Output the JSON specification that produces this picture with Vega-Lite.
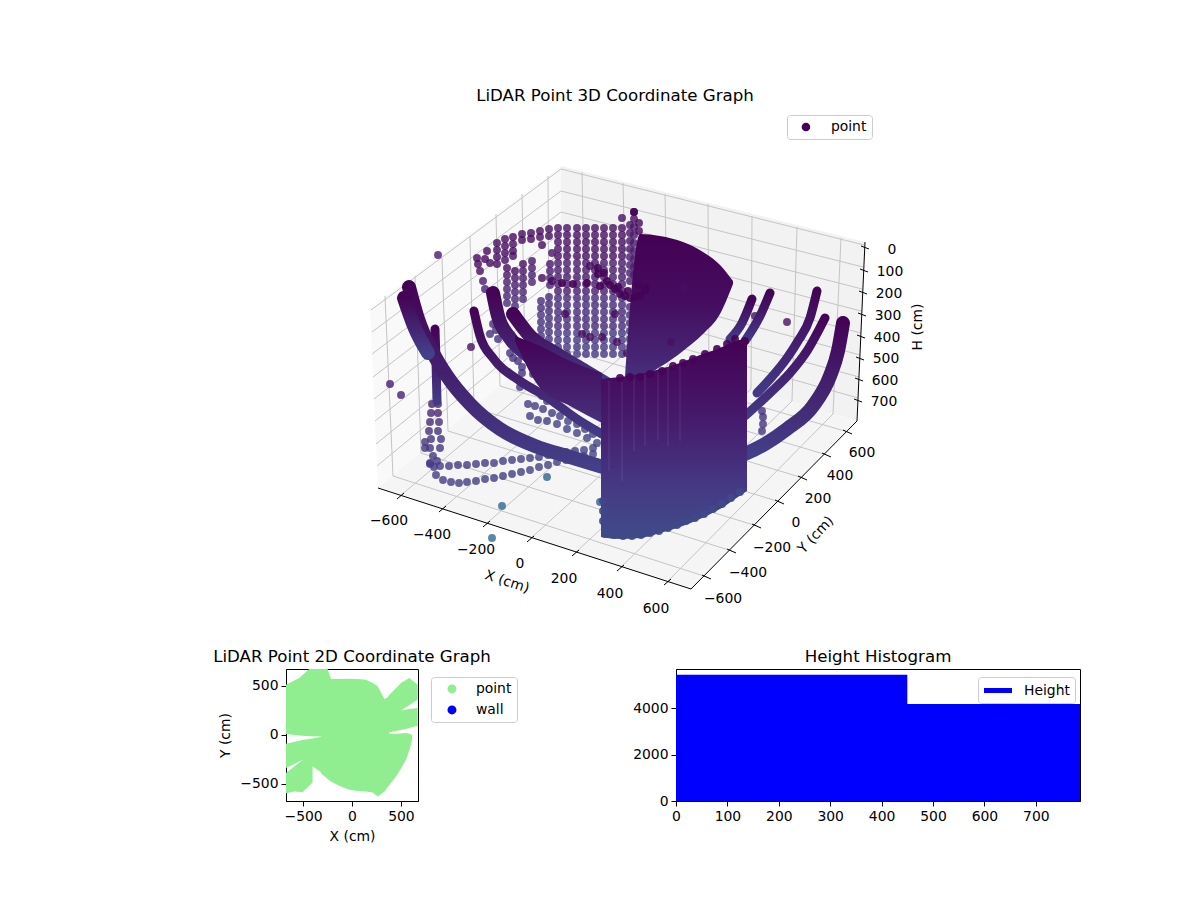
{"$schema":"https://vega.github.io/schema/vega-lite/v6.json","padding":{"left":212,"top":88,"right":0,"bottom":0},"background":"white","bounds":"flush","spacing":48,"config":{"font":"DejaVu Sans","view":{"stroke":"black"},"title":{"fontWeight":"normal","fontSize":16.67,"color":"black","offset":3},"axis":{"grid":false,"domainColor":"black","tickColor":"black","labelColor":"black","titleColor":"black","labelFontSize":13.9,"titleFontSize":13.9,"titleFontWeight":"normal","tickSize":5,"labelPadding":3,"labelFlush":false,"labelOverlap":false,"format":"d"},"legend":{"labelFontSize":13.9,"labelColor":"black","fillColor":"white","strokeColor":"#cccccc","cornerRadius":3,"padding":5}},"datasets":{"panes":[{"p":"left","x":370,"y":307,"y2":307},{"p":"left","x":378,"y":301,"y2":487},{"p":"left","x":561,"y":165,"y2":333}],"panesR":[{"x":561,"y":165,"y2":333},{"x":857,"y":239,"y2":420},{"x":865,"y":241,"y2":241}],"panesF":[{"x":378,"y":487,"y2":487},{"x":561,"y":333,"y2":547},{"x":691,"y":371,"y2":588},{"x":857,"y":420,"y2":420}],"grid":[{"x":385,"y":295,"x2":393,"y2":475},{"x":415,"y":275,"x2":421,"y2":452},{"x":442,"y":257,"x2":448,"y2":430},{"x":470,"y":235,"x2":474,"y2":407},{"x":496,"y":213,"x2":500,"y2":385},{"x":522,"y":193,"x2":525,"y2":364},{"x":548,"y":175,"x2":549,"y2":344},{"x":582,"y":171,"x2":585,"y2":340},{"x":623,"y":182,"x2":627,"y2":351},{"x":665,"y":193,"x2":668,"y2":364},{"x":708,"y":203,"x2":709,"y2":376},{"x":752,"y":215,"x2":751,"y2":388},{"x":797,"y":226,"x2":792,"y2":400},{"x":841,"y":237,"x2":833,"y2":413},{"x":371,"y":309,"x2":561,"y2":168},{"x":372,"y":331,"x2":561,"y2":190},{"x":372,"y":353,"x2":561,"y2":211},{"x":373,"y":376,"x2":561,"y2":232},{"x":374,"y":398,"x2":561,"y2":252},{"x":375,"y":420,"x2":561,"y2":273},{"x":376,"y":443,"x2":561,"y2":293},{"x":377,"y":465,"x2":561,"y2":313},{"x":561,"y":168,"x2":864,"y2":244},{"x":561,"y":190,"x2":863,"y2":266},{"x":561,"y":211,"x2":862,"y2":288},{"x":561,"y":232,"x2":861,"y2":310},{"x":561,"y":252,"x2":861,"y2":332},{"x":561,"y":273,"x2":860,"y2":354},{"x":561,"y":293,"x2":859,"y2":376},{"x":561,"y":313,"x2":858,"y2":397},{"x":400,"y":495,"x2":585,"y2":340},{"x":442,"y":508,"x2":627,"y2":351},{"x":486,"y":523,"x2":668,"y2":364},{"x":530,"y":538,"x2":709,"y2":376},{"x":575,"y":552,"x2":751,"y2":388},{"x":620,"y":567,"x2":792,"y2":400},{"x":667,"y":581,"x2":833,"y2":413},{"x":707,"y":576,"x2":393,"y2":475},{"x":732,"y":550,"x2":421,"y2":452},{"x":757,"y":525,"x2":448,"y2":430},{"x":780,"y":501,"x2":474,"y2":407},{"x":803,"y":477,"x2":500,"y2":385},{"x":827,"y":454,"x2":525,"y2":364},{"x":848,"y":431,"x2":549,"y2":344}],"axes":[{"x":378,"y":487,"x2":691,"y2":588},{"x":691,"y":588,"x2":857,"y2":420},{"x":857,"y":420,"x2":865,"y2":241},{"x":397,"y":498,"x2":404,"y2":492},{"x":439,"y":511,"x2":446,"y2":505},{"x":483,"y":526,"x2":490,"y2":520},{"x":527,"y":541,"x2":534,"y2":535},{"x":572,"y":555,"x2":579,"y2":549},{"x":617,"y":570,"x2":624,"y2":564},{"x":664,"y":584,"x2":671,"y2":578},{"x":702,"y":574,"x2":711,"y2":578},{"x":727,"y":548,"x2":736,"y2":552},{"x":752,"y":523,"x2":761,"y2":527},{"x":775,"y":499,"x2":784,"y2":503},{"x":798,"y":475,"x2":807,"y2":479},{"x":822,"y":452,"x2":831,"y2":456},{"x":843,"y":429,"x2":852,"y2":433},{"x":861,"y":245,"x2":869,"y2":248},{"x":860,"y":268,"x2":868,"y2":271},{"x":859,"y":290,"x2":867,"y2":293},{"x":858,"y":312,"x2":866,"y2":315},{"x":857,"y":334,"x2":865,"y2":337},{"x":856,"y":356,"x2":864,"y2":359},{"x":855,"y":377,"x2":863,"y2":380},{"x":854,"y":398,"x2":862,"y2":401}],"labels":[{"t":"−600","x":389,"y":520},{"t":"−400","x":432,"y":534},{"t":"−200","x":476,"y":549},{"t":"0","x":520,"y":563},{"t":"200","x":564,"y":578},{"t":"400","x":610,"y":593},{"t":"600","x":656,"y":608},{"t":"−600","x":723,"y":598},{"t":"−400","x":748,"y":572},{"t":"−200","x":772,"y":547},{"t":"0","x":796,"y":522},{"t":"200","x":818,"y":498},{"t":"400","x":840,"y":475},{"t":"600","x":862,"y":452},{"t":"0","x":892,"y":249},{"t":"100","x":890,"y":271},{"t":"200","x":889,"y":293},{"t":"300","x":888,"y":315},{"t":"400","x":887,"y":337},{"t":"500","x":886,"y":358},{"t":"600","x":885,"y":380},{"t":"700","x":884,"y":401}],"pts":[{"x":558,"y":227,"h":30},{"x":558,"y":234,"h":30},{"x":558,"y":241,"h":30},{"x":558,"y":248,"h":30},{"x":558,"y":255,"h":30},{"x":558,"y":262,"h":55},{"x":558,"y":269,"h":55},{"x":558,"y":276,"h":55},{"x":558,"y":283,"h":55},{"x":558,"y":290,"h":55},{"x":558,"y":297,"h":95},{"x":558,"y":304,"h":95},{"x":558,"y":311,"h":95},{"x":558,"y":318,"h":95},{"x":558,"y":325,"h":95},{"x":558,"y":332,"h":125},{"x":558,"y":339,"h":125},{"x":558,"y":346,"h":125},{"x":558,"y":353,"h":125},{"x":558,"y":360,"h":125},{"x":567,"y":227,"h":30},{"x":567,"y":234,"h":30},{"x":567,"y":241,"h":30},{"x":567,"y":248,"h":30},{"x":567,"y":255,"h":30},{"x":567,"y":262,"h":55},{"x":567,"y":269,"h":55},{"x":567,"y":276,"h":55},{"x":567,"y":283,"h":55},{"x":567,"y":290,"h":55},{"x":567,"y":297,"h":95},{"x":567,"y":304,"h":95},{"x":567,"y":311,"h":95},{"x":567,"y":318,"h":95},{"x":567,"y":325,"h":95},{"x":567,"y":332,"h":125},{"x":567,"y":339,"h":125},{"x":567,"y":346,"h":125},{"x":567,"y":353,"h":125},{"x":577,"y":227,"h":30},{"x":577,"y":234,"h":30},{"x":577,"y":241,"h":30},{"x":577,"y":248,"h":30},{"x":577,"y":255,"h":30},{"x":577,"y":262,"h":55},{"x":577,"y":269,"h":55},{"x":577,"y":276,"h":55},{"x":577,"y":283,"h":55},{"x":577,"y":290,"h":55},{"x":577,"y":297,"h":95},{"x":577,"y":304,"h":95},{"x":577,"y":311,"h":95},{"x":577,"y":318,"h":95},{"x":577,"y":325,"h":95},{"x":577,"y":332,"h":125},{"x":577,"y":339,"h":125},{"x":577,"y":346,"h":125},{"x":577,"y":353,"h":125},{"x":586,"y":227,"h":30},{"x":586,"y":234,"h":30},{"x":586,"y":241,"h":30},{"x":586,"y":248,"h":30},{"x":586,"y":255,"h":30},{"x":586,"y":262,"h":55},{"x":586,"y":269,"h":55},{"x":586,"y":276,"h":55},{"x":586,"y":283,"h":55},{"x":586,"y":290,"h":55},{"x":586,"y":297,"h":95},{"x":586,"y":304,"h":95},{"x":586,"y":311,"h":95},{"x":586,"y":318,"h":95},{"x":586,"y":325,"h":95},{"x":586,"y":332,"h":125},{"x":586,"y":339,"h":125},{"x":586,"y":346,"h":125},{"x":586,"y":353,"h":125},{"x":595,"y":227,"h":30},{"x":595,"y":234,"h":30},{"x":595,"y":241,"h":30},{"x":595,"y":248,"h":30},{"x":595,"y":255,"h":30},{"x":595,"y":262,"h":55},{"x":595,"y":269,"h":55},{"x":595,"y":276,"h":55},{"x":595,"y":283,"h":55},{"x":595,"y":290,"h":55},{"x":595,"y":297,"h":95},{"x":595,"y":304,"h":95},{"x":595,"y":311,"h":95},{"x":595,"y":318,"h":95},{"x":595,"y":325,"h":95},{"x":595,"y":332,"h":125},{"x":595,"y":339,"h":125},{"x":595,"y":346,"h":125},{"x":595,"y":353,"h":125},{"x":604,"y":227,"h":30},{"x":604,"y":234,"h":30},{"x":604,"y":241,"h":30},{"x":604,"y":248,"h":30},{"x":604,"y":255,"h":30},{"x":604,"y":262,"h":55},{"x":604,"y":269,"h":55},{"x":604,"y":276,"h":55},{"x":604,"y":283,"h":55},{"x":604,"y":290,"h":55},{"x":604,"y":297,"h":95},{"x":604,"y":304,"h":95},{"x":604,"y":311,"h":95},{"x":604,"y":318,"h":95},{"x":604,"y":325,"h":95},{"x":604,"y":332,"h":125},{"x":604,"y":339,"h":125},{"x":604,"y":346,"h":125},{"x":604,"y":353,"h":125},{"x":613,"y":227,"h":30},{"x":613,"y":234,"h":30},{"x":613,"y":241,"h":30},{"x":613,"y":248,"h":30},{"x":613,"y":255,"h":30},{"x":613,"y":262,"h":55},{"x":613,"y":269,"h":55},{"x":613,"y":276,"h":55},{"x":613,"y":283,"h":55},{"x":613,"y":290,"h":55},{"x":613,"y":297,"h":95},{"x":613,"y":304,"h":95},{"x":613,"y":311,"h":95},{"x":613,"y":318,"h":95},{"x":613,"y":325,"h":95},{"x":613,"y":332,"h":125},{"x":613,"y":339,"h":125},{"x":613,"y":346,"h":125},{"x":613,"y":353,"h":125},{"x":622,"y":227,"h":30},{"x":622,"y":234,"h":30},{"x":622,"y":241,"h":30},{"x":622,"y":248,"h":30},{"x":622,"y":255,"h":30},{"x":622,"y":262,"h":55},{"x":622,"y":269,"h":55},{"x":622,"y":276,"h":55},{"x":622,"y":283,"h":55},{"x":622,"y":290,"h":55},{"x":622,"y":297,"h":95},{"x":622,"y":304,"h":95},{"x":622,"y":311,"h":95},{"x":622,"y":318,"h":95},{"x":622,"y":325,"h":95},{"x":622,"y":332,"h":125},{"x":622,"y":339,"h":125},{"x":622,"y":346,"h":125},{"x":622,"y":353,"h":125},{"x":630,"y":224,"h":40},{"x":630,"y":232,"h":40},{"x":630,"y":240,"h":40},{"x":630,"y":248,"h":40},{"x":630,"y":256,"h":55},{"x":630,"y":264,"h":55},{"x":630,"y":272,"h":55},{"x":630,"y":280,"h":55},{"x":630,"y":306,"h":95},{"x":630,"y":314,"h":95},{"x":630,"y":322,"h":95},{"x":630,"y":330,"h":125},{"x":630,"y":338,"h":125},{"x":630,"y":346,"h":125},{"x":634,"y":211,"h":10},{"x":634,"y":218,"h":20},{"x":634,"y":226,"h":40},{"x":634,"y":234,"h":50},{"x":634,"y":242,"h":50},{"x":634,"y":250,"h":60},{"x":634,"y":258,"h":60},{"x":634,"y":266,"h":60},{"x":634,"y":274,"h":60},{"x":639,"y":222,"h":15},{"x":639,"y":230,"h":15},{"x":477,"y":257,"h":15},{"x":478,"y":263,"h":15},{"x":480,"y":270,"h":25},{"x":483,"y":280,"h":50},{"x":485,"y":288,"h":70},{"x":487,"y":250,"h":15},{"x":485,"y":258,"h":15},{"x":490,"y":262,"h":20},{"x":497,"y":242,"h":20},{"x":497,"y":249,"h":20},{"x":497,"y":256,"h":20},{"x":497,"y":263,"h":25},{"x":505,"y":238,"h":20},{"x":505,"y":245,"h":20},{"x":505,"y":252,"h":20},{"x":505,"y":259,"h":25},{"x":513,"y":236,"h":20},{"x":513,"y":243,"h":20},{"x":513,"y":250,"h":20},{"x":513,"y":255,"h":30},{"x":522,"y":233,"h":25},{"x":522,"y":239,"h":25},{"x":531,"y":232,"h":25},{"x":531,"y":238,"h":25},{"x":540,"y":230,"h":25},{"x":540,"y":236,"h":25},{"x":542,"y":244,"h":20},{"x":549,"y":228,"h":25},{"x":549,"y":235,"h":25},{"x":552,"y":252,"h":40},{"x":507,"y":267,"h":20},{"x":507,"y":274,"h":40},{"x":507,"y":281,"h":55},{"x":507,"y":288,"h":70},{"x":507,"y":295,"h":80},{"x":507,"y":302,"h":90},{"x":515,"y":270,"h":20},{"x":515,"y":277,"h":40},{"x":515,"y":284,"h":55},{"x":515,"y":291,"h":70},{"x":515,"y":298,"h":80},{"x":515,"y":305,"h":90},{"x":523,"y":263,"h":35},{"x":523,"y":270,"h":45},{"x":523,"y":277,"h":55},{"x":523,"y":284,"h":70},{"x":523,"y":291,"h":80},{"x":523,"y":298,"h":90},{"x":532,"y":260,"h":45},{"x":532,"y":267,"h":55},{"x":532,"y":274,"h":65},{"x":532,"y":281,"h":75},{"x":542,"y":277,"h":15},{"x":550,"y":263,"h":50},{"x":550,"y":270,"h":60},{"x":550,"y":277,"h":70},{"x":550,"y":284,"h":80},{"x":552,"y":280,"h":15},{"x":541,"y":300,"h":95},{"x":541,"y":307,"h":100},{"x":541,"y":314,"h":105},{"x":541,"y":321,"h":110},{"x":541,"y":328,"h":115},{"x":541,"y":335,"h":120},{"x":549,"y":296,"h":90},{"x":549,"y":303,"h":95},{"x":549,"y":310,"h":100},{"x":549,"y":317,"h":105},{"x":549,"y":324,"h":110},{"x":549,"y":331,"h":115},{"x":549,"y":338,"h":120},{"x":549,"y":345,"h":125},{"x":493,"y":323,"h":100},{"x":496,"y":329,"h":105},{"x":490,"y":333,"h":105},{"x":498,"y":338,"h":110},{"x":510,"y":352,"h":110},{"x":513,"y":357,"h":110},{"x":518,"y":360,"h":110},{"x":522,"y":366,"h":115},{"x":522,"y":372,"h":115},{"x":533,"y":373,"h":120},{"x":520,"y":386,"h":130},{"x":542,"y":395,"h":135},{"x":547,"y":400,"h":135},{"x":528,"y":403,"h":140},{"x":535,"y":405,"h":140},{"x":543,"y":408,"h":140},{"x":552,"y":412,"h":145},{"x":560,"y":415,"h":145},{"x":568,"y":420,"h":150},{"x":577,"y":423,"h":150},{"x":585,"y":428,"h":155},{"x":593,"y":433,"h":155},{"x":530,"y":415,"h":140},{"x":538,"y":419,"h":145},{"x":547,"y":420,"h":145},{"x":557,"y":423,"h":150},{"x":567,"y":428,"h":150},{"x":577,"y":432,"h":155},{"x":587,"y":437,"h":155},{"x":597,"y":442,"h":160},{"x":432,"y":403,"h":70},{"x":438,"y":403,"h":70},{"x":431,"y":412,"h":85},{"x":438,"y":412,"h":85},{"x":430,"y":421,"h":100},{"x":439,"y":421,"h":100},{"x":429,"y":430,"h":110},{"x":438,"y":430,"h":110},{"x":431,"y":438,"h":120},{"x":441,"y":438,"h":120},{"x":425,"y":441,"h":120},{"x":430,"y":447,"h":125},{"x":440,"y":447,"h":125},{"x":425,"y":447,"h":125},{"x":433,"y":455,"h":130},{"x":437,"y":460,"h":130},{"x":430,"y":462,"h":135},{"x":434,"y":466,"h":135},{"x":430,"y":463,"h":135},{"x":440,"y":465,"h":135},{"x":449,"y":465,"h":135},{"x":458,"y":464,"h":135},{"x":467,"y":464,"h":135},{"x":476,"y":463,"h":135},{"x":485,"y":462,"h":135},{"x":494,"y":462,"h":140},{"x":503,"y":460,"h":140},{"x":512,"y":459,"h":140},{"x":521,"y":458,"h":140},{"x":530,"y":457,"h":140},{"x":539,"y":456,"h":145},{"x":548,"y":454,"h":145},{"x":557,"y":453,"h":145},{"x":566,"y":451,"h":145},{"x":575,"y":450,"h":145},{"x":584,"y":449,"h":150},{"x":593,"y":447,"h":150},{"x":436,"y":474,"h":140},{"x":443,"y":479,"h":140},{"x":451,"y":481,"h":140},{"x":459,"y":482,"h":140},{"x":467,"y":481,"h":140},{"x":476,"y":480,"h":140},{"x":485,"y":478,"h":145},{"x":494,"y":477,"h":145},{"x":503,"y":475,"h":145},{"x":512,"y":473,"h":145},{"x":521,"y":471,"h":145},{"x":530,"y":469,"h":150},{"x":539,"y":466,"h":150},{"x":548,"y":464,"h":150},{"x":557,"y":461,"h":150},{"x":566,"y":459,"h":150},{"x":575,"y":457,"h":155},{"x":584,"y":455,"h":155},{"x":593,"y":453,"h":155},{"x":762,"y":410,"h":110},{"x":763,"y":416,"h":110},{"x":763,"y":423,"h":120},{"x":762,"y":430,"h":120},{"x":438,"y":254,"h":55},{"x":390,"y":383,"h":60},{"x":401,"y":394,"h":70},{"x":471,"y":346,"h":30},{"x":502,"y":505,"h":260},{"x":492,"y":537,"h":270},{"x":547,"y":476,"h":240},{"x":600,"y":501,"h":230},{"x":787,"y":321,"h":35},{"x":755,"y":315,"h":35},{"x":622,"y":217,"h":30},{"x":590,"y":265,"h":20},{"x":565,"y":313,"h":20},{"x":582,"y":333,"h":25},{"x":590,"y":336,"h":25},{"x":602,"y":336,"h":25},{"x":617,"y":341,"h":25},{"x":627,"y":352,"h":25},{"x":615,"y":313,"h":20}],"thick":[{"s":"l1","x":409,"y":286},{"s":"l1","x":418,"y":318},{"s":"l1","x":432,"y":350},{"s":"l1","x":447,"y":375},{"s":"l1","x":470,"y":403},{"s":"l1","x":500,"y":428},{"s":"l1","x":535,"y":445},{"s":"l1","x":570,"y":456},{"s":"l1","x":603,"y":466},{"s":"l2","x":404,"y":297},{"s":"l2","x":414,"y":325},{"s":"l2","x":428,"y":352},{"s":"a","x":493,"y":292},{"s":"a","x":498,"y":315},{"s":"a","x":510,"y":337},{"s":"a","x":530,"y":356},{"s":"a","x":560,"y":375},{"s":"a","x":600,"y":395},{"s":"b","x":513,"y":313},{"s":"b","x":530,"y":335},{"s":"b","x":555,"y":352},{"s":"b","x":585,"y":370},{"s":"b","x":610,"y":385},{"s":"r1","x":843,"y":322},{"s":"r1","x":838,"y":350},{"s":"r1","x":830,"y":375},{"s":"r1","x":813,"y":405},{"s":"r1","x":787,"y":428},{"s":"r1","x":765,"y":443},{"s":"r1","x":745,"y":453}],"thin":[{"s":"c","x":474,"y":310},{"s":"c","x":480,"y":335},{"s":"c","x":493,"y":357},{"s":"c","x":520,"y":380},{"s":"c","x":545,"y":395},{"s":"c","x":580,"y":420},{"s":"c","x":602,"y":433},{"s":"k","x":435,"y":328},{"s":"k","x":436,"y":360},{"s":"k","x":437,"y":400},{"s":"r2","x":817,"y":290},{"s":"r2","x":810,"y":317},{"s":"r2","x":798,"y":340},{"s":"r2","x":787,"y":357},{"s":"r2","x":770,"y":378},{"s":"r2","x":757,"y":392},{"s":"r2b","x":825,"y":317},{"s":"r2b","x":807,"y":350},{"s":"r2b","x":790,"y":372},{"s":"r2b","x":770,"y":392},{"s":"r2b","x":745,"y":415},{"s":"r3","x":770,"y":292},{"s":"r3","x":760,"y":315},{"s":"r3","x":745,"y":340},{"s":"r4","x":752,"y":298},{"s":"r4","x":742,"y":322},{"s":"r4","x":730,"y":338}],"fan":[{"x":515,"y":335,"y2":340},{"x":540,"y":345,"y2":387},{"x":570,"y":360,"y2":405},{"x":602,"y":372,"y2":422}],"bowl":[{"x":625,"y":376,"y2":376},{"x":640,"y":233,"y2":376},{"x":660,"y":235,"y2":366},{"x":683,"y":241,"y2":350},{"x":703,"y":251,"y2":333},{"x":720,"y":264,"y2":313},{"x":733,"y":280,"y2":283}],"wall":[{"x":601,"y":378,"y2":536},{"x":620,"y":376,"y2":538},{"x":640,"y":373,"y2":537},{"x":660,"y":368,"y2":532},{"x":680,"y":362,"y2":526},{"x":700,"y":354,"y2":518},{"x":720,"y":347,"y2":508},{"x":735,"y":340,"y2":498},{"x":747,"y":338,"y2":490}],"gaps":[{"x":609,"y":380,"y2":470},{"x":622,"y":378,"y2":480},{"x":634,"y":376,"y2":450},{"x":645,"y":374,"y2":445},{"x":658,"y":370,"y2":440},{"x":668,"y":366,"y2":445},{"x":680,"y":362,"y2":440}],"front":[{"x":562,"y":282,"h":5},{"x":573,"y":283,"h":5},{"x":587,"y":282,"h":5},{"x":598,"y":267,"h":5},{"x":598,"y":273,"h":5},{"x":600,"y":285,"h":5},{"x":607,"y":280,"h":5},{"x":604,"y":272,"h":5},{"x":615,"y":288,"h":5},{"x":620,"y":293,"h":5},{"x":625,"y":295,"h":5},{"x":630,"y":297,"h":5},{"x":635,"y":296,"h":5},{"x":640,"y":295,"h":5},{"x":645,"y":290,"h":5},{"x":646,"y":287,"h":5},{"x":638,"y":284,"h":5},{"x":610,"y":284,"h":5},{"x":618,"y":286,"h":5},{"x":628,"y":290,"h":5},{"x":603,"y":500,"h":160},{"x":603,"y":510,"h":165},{"x":603,"y":520,"h":165},{"x":605,"y":533,"h":170},{"x":614,"y":534,"h":170},{"x":623,"y":535,"h":170},{"x":632,"y":535,"h":170},{"x":641,"y":534,"h":170},{"x":650,"y":532,"h":170},{"x":659,"y":530,"h":170},{"x":668,"y":527,"h":170},{"x":677,"y":524,"h":170},{"x":686,"y":520,"h":170},{"x":695,"y":517,"h":170},{"x":704,"y":513,"h":170},{"x":713,"y":508,"h":170},{"x":722,"y":503,"h":170},{"x":731,"y":497,"h":170},{"x":740,"y":491,"h":170},{"x":620,"y":377,"h":5},{"x":630,"y":376,"h":5},{"x":640,"y":376,"h":5},{"x":650,"y":373,"h":5},{"x":662,"y":370,"h":5},{"x":673,"y":365,"h":5},{"x":683,"y":362,"h":5},{"x":693,"y":358,"h":5},{"x":705,"y":353,"h":5},{"x":717,"y":348,"h":5},{"x":727,"y":343,"h":5},{"x":735,"y":338,"h":5},{"x":745,"y":340,"h":5},{"x":684,"y":287,"h":25},{"x":671,"y":341,"h":35},{"x":634,"y":211,"h":10}],"blob":[{"s":"s1","X":-676,"top":510,"bot":7},{"s":"s1","X":-539,"top":578,"bot":-7},{"s":"s1","X":-437,"top":670,"bot":-14},{"s":"s1","X":-300,"top":670,"bot":-17},{"s":"s2","X":-317,"top":670,"bot":-391},{"s":"s2","X":-249,"top":670,"bot":-452},{"s":"s2","X":-215,"top":568,"bot":-476},{"s":"s2","X":-120,"top":568,"bot":-525},{"s":"s2","X":-27,"top":571,"bot":-561},{"s":"s2","X":60,"top":568,"bot":-572},{"s":"s2","X":143,"top":561,"bot":-578},{"s":"s2","X":212,"top":527,"bot":-588},{"s":"s2","X":263,"top":493,"bot":-629},{"s":"s2","X":331,"top":364,"bot":-578},{"s":"s2","X":382,"top":391,"bot":-510},{"s":"s3","X":370,"top":10,"bot":-525},{"s":"s3","X":451,"top":10,"bot":-425},{"s":"s3","X":553,"top":17,"bot":-255},{"s":"s3","X":590,"top":10,"bot":-150},{"s":"s3","X":614,"top":0,"bot":-50},{"s":"s4","X":370,"top":395,"bot":24},{"s":"s4","X":502,"top":527,"bot":48},{"s":"s5","X":500,"top":527,"bot":248},{"s":"s5","X":587,"top":578,"bot":303},{"s":"s5","X":672,"top":510,"bot":357},{"s":"s6","X":500,"top":248,"bot":48},{"s":"s6","X":587,"top":262,"bot":68},{"s":"s6","X":672,"top":272,"bot":92},{"s":"s7","X":-676,"top":-92,"bot":-340},{"s":"s7","X":-505,"top":-54,"bot":-255},{"s":"s7","X":-403,"top":-37,"bot":-323},{"s":"s7","X":-300,"top":-17,"bot":-391},{"s":"s8","X":-676,"top":-391,"bot":-595},{"s":"s8","X":-590,"top":-323,"bot":-578},{"s":"s8","X":-505,"top":-255,"bot":-585},{"s":"s8","X":-403,"top":-306,"bot":-486}],"hist":[{"lo":0,"hi":450,"n":5450},{"lo":449,"hi":786,"n":4190}]},"vconcat":[{"width":658,"height":510,"view":{"stroke":null},"title":{"text":"LiDAR Point 3D Coordinate Graph","offset":6},"encoding":{"x":{"field":"x","type":"quantitative","axis":null,"scale":{"domain":[286,944],"nice":false,"zero":false}},"y":{"field":"y","type":"quantitative","axis":null,"scale":{"domain":[620,110],"nice":false,"zero":false}}},"layer":[{"data":{"name":"panes"},"mark":{"type":"area","color":"#f9f9f9"},"encoding":{"y2":{"field":"y2"}}},{"data":{"name":"panesR"},"mark":{"type":"area","color":"#f2f2f2"},"encoding":{"y2":{"field":"y2"}}},{"data":{"name":"panesF"},"mark":{"type":"area","color":"#f5f5f5"},"encoding":{"y2":{"field":"y2"}}},{"data":{"name":"grid"},"mark":{"type":"rule","color":"#c4c4c4","strokeWidth":1},"encoding":{"x2":{"field":"x2"},"y2":{"field":"y2"}}},{"data":{"name":"axes"},"mark":{"type":"rule","color":"black","strokeWidth":1},"encoding":{"x2":{"field":"x2"},"y2":{"field":"y2"}}},{"data":{"name":"labels"},"mark":{"type":"text","fontSize":13.9,"color":"black"},"encoding":{"text":{"field":"t"}}},{"data":{"values":[{"x":507,"y":581,"t":"X (cm)"}]},"mark":{"type":"text","fontSize":13.9,"color":"black","angle":18},"encoding":{"text":{"field":"t"}}},{"data":{"values":[{"x":816,"y":534,"t":"Y (cm)"}]},"mark":{"type":"text","fontSize":13.9,"color":"black","angle":313},"encoding":{"text":{"field":"t"}}},{"data":{"values":[{"x":918,"y":326,"t":"H (cm)"}]},"mark":{"type":"text","fontSize":13.9,"color":"black","angle":270},"encoding":{"text":{"field":"t"}}},{"data":{"name":"pts"},"mark":{"type":"point","filled":true,"size":62,"opacity":0.8},"encoding":{"color":{"field":"h","type":"quantitative","scale":{"scheme":"viridis","domain":[0,790]},"legend":null},"shape":{"datum":"point","scale":{"domain":["point"],"range":["circle"]},"legend":{"title":null,"orient":"none","legendX":501,"legendY":4,"symbolFillColor":"#440154","symbolStrokeColor":"#440154","symbolSize":50,"symbolOpacity":1,"symbolOffset":7,"labelOffset":18}}}},{"data":{"name":"thin"},"mark":{"type":"line","strokeWidth":9,"strokeCap":"round","strokeJoin":"round","interpolate":"monotone","stroke":{"gradient":"linear","x1":0,"y1":0,"x2":0,"y2":1,"stops":[{"offset":0,"color":"#440456"},{"offset":1,"color":"#433a85"}]}},"encoding":{"detail":{"field":"s"}}},{"data":{"name":"thick"},"mark":{"type":"line","strokeWidth":14,"strokeCap":"round","strokeJoin":"round","interpolate":"monotone","stroke":{"gradient":"linear","x1":0,"y1":0,"x2":0,"y2":1,"stops":[{"offset":0,"color":"#440456"},{"offset":1,"color":"#433f88"}]}},"encoding":{"detail":{"field":"s"}}},{"data":{"name":"fan"},"mark":{"type":"area","interpolate":"monotone","color":{"gradient":"linear","x1":0,"y1":0,"x2":0,"y2":1,"stops":[{"offset":0,"color":"#440154"},{"offset":1,"color":"#46307c"}]}},"encoding":{"y2":{"field":"y2"}}},{"data":{"name":"bowl"},"mark":{"type":"area","interpolate":"monotone","color":{"gradient":"linear","x1":0,"y1":0,"x2":0,"y2":1,"stops":[{"offset":0,"color":"#440154"},{"offset":0.5,"color":"#450e60"},{"offset":1,"color":"#472e7c"}]}},"encoding":{"y2":{"field":"y2"}}},{"data":{"name":"wall"},"mark":{"type":"area","interpolate":"monotone","color":{"gradient":"linear","x1":0,"y1":0,"x2":0,"y2":1,"stops":[{"offset":0,"color":"#440154"},{"offset":0.4,"color":"#461a6c"},{"offset":0.75,"color":"#453a84"},{"offset":1,"color":"#3f4c8a"}]}},"encoding":{"y2":{"field":"y2"}}},{"data":{"name":"gaps"},"mark":{"type":"rule","color":"#ffffff","strokeWidth":0.8,"opacity":0.13},"encoding":{"y2":{"field":"y2"}}},{"data":{"name":"front"},"mark":{"type":"point","filled":true,"size":62,"opacity":0.9},"encoding":{"color":{"field":"h","type":"quantitative","scale":{"scheme":"viridis","domain":[0,790]},"legend":null}}}]},{"hconcat":[{"width":132,"height":132,"title":{"text":"LiDAR Point 2D Coordinate Graph"},"data":{"name":"blob"},"mark":{"type":"area","clip":true},"encoding":{"x":{"field":"X","type":"quantitative","title":"X (cm)","scale":{"domain":[-675,675],"nice":false,"zero":false},"axis":{"values":[-500,0,500],"titlePadding":7}},"y":{"field":"top","type":"quantitative","title":"Y (cm)","scale":{"domain":[-675,670],"nice":false,"zero":false},"axis":{"values":[-500,0,500],"titlePadding":7}},"y2":{"field":"bot"},"detail":{"field":"s"},"color":{"datum":"point","scale":{"domain":["point","wall"],"range":["#90ee90","#0000ff"]},"legend":{"title":null,"orient":"none","legendX":145,"legendY":8,"symbolType":"circle","symbolSize":80,"symbolOpacity":1,"symbolOffset":9,"labelOffset":17,"rowPadding":6}}}},{"width":404,"height":132,"title":{"text":"Height Histogram"},"data":{"name":"hist"},"mark":{"type":"bar","clip":true},"encoding":{"x":{"field":"lo","type":"quantitative","title":null,"scale":{"domain":[0,786],"nice":false,"zero":false},"axis":{"values":[0,100,200,300,400,500,600,700]}},"x2":{"field":"hi"},"y":{"field":"n","type":"quantitative","title":null,"scale":{"domain":[0,5700],"nice":false},"axis":{"values":[0,2000,4000]}},"y2":{"datum":0},"color":{"datum":"Height","scale":{"domain":["Height"],"range":["#0000ff"]},"legend":{"title":null,"orient":"none","legendX":302,"legendY":8,"symbolType":"M-1.87,-0.33H1.87V0.33H-1.87Z","symbolSize":225,"symbolOpacity":1,"symbolOffset":6.5,"labelOffset":17.5}}}}],"bounds":"flush","spacing":258,"resolve":{"scale":{"color":"independent"},"legend":{"color":"independent"}}}]}
